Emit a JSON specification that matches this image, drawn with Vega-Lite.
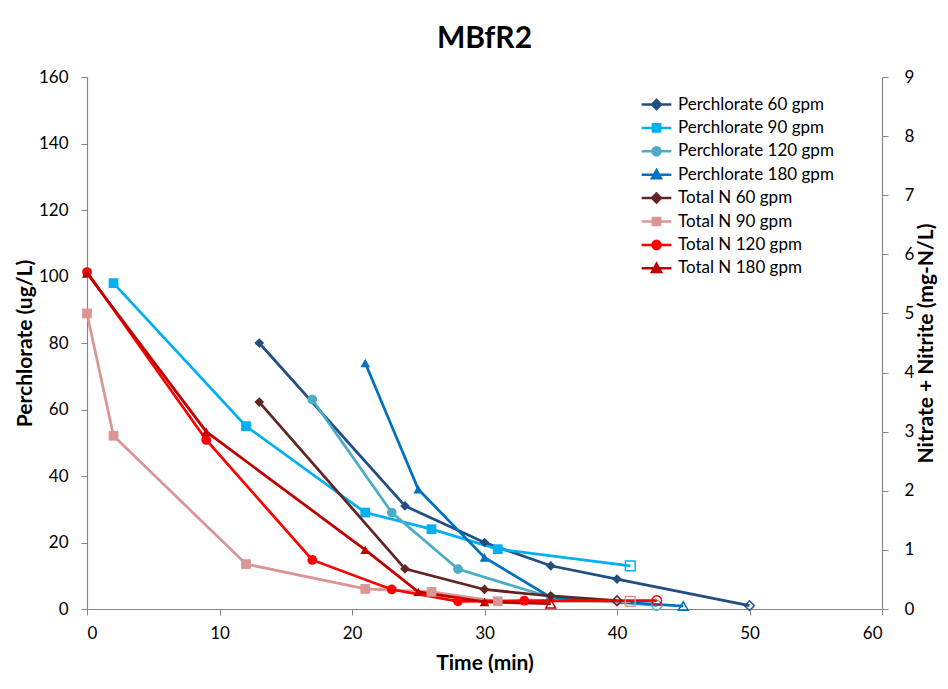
{
  "$schema": "https://vega.github.io/schema/vega-lite/v6.json",
  "width": 795,
  "height": 532,
  "autosize": "none",
  "padding": {"left": 87, "top": 77, "right": 66, "bottom": 80},
  "background": "white",
  "title": {"text": "MBfR2", "font": "Lato", "fontSize": 30, "fontWeight": "bold", "color": "#000000", "anchor": "middle", "offset": 14},
  "config": {
    "view": {"stroke": null},
    "axis": {"labelFont": "Lato", "labelFontSize": 17, "labelColor": "#000000", "titleFont": "Lato", "titleFontSize": 21, "titleFontWeight": "bold", "titleColor": "#000000", "domainColor": "#868686", "tickColor": "#868686", "grid": false, "tickSize": 6, "domainWidth": 1.2},
    "legend": {"labelFont": "Lato", "labelFontSize": 17, "labelColor": "#000000", "rowPadding": 4.4, "labelOffset": 13, "orient": "none", "legendX": 561, "legendY": 19}
  },
  "data": {"values": [
    {"series": "Perchlorate 60 gpm", "analyte": "Perchlorate", "flow": 60, "time": 13, "value": 80, "nd": false},
    {"series": "Perchlorate 60 gpm", "analyte": "Perchlorate", "flow": 60, "time": 24, "value": 31, "nd": false},
    {"series": "Perchlorate 60 gpm", "analyte": "Perchlorate", "flow": 60, "time": 30, "value": 20, "nd": false},
    {"series": "Perchlorate 60 gpm", "analyte": "Perchlorate", "flow": 60, "time": 35, "value": 13, "nd": false},
    {"series": "Perchlorate 60 gpm", "analyte": "Perchlorate", "flow": 60, "time": 40, "value": 9, "nd": false},
    {"series": "Perchlorate 60 gpm", "analyte": "Perchlorate", "flow": 60, "time": 50, "value": 1, "nd": true},
    {"series": "Perchlorate 90 gpm", "analyte": "Perchlorate", "flow": 90, "time": 2, "value": 98, "nd": false},
    {"series": "Perchlorate 90 gpm", "analyte": "Perchlorate", "flow": 90, "time": 12, "value": 55, "nd": false},
    {"series": "Perchlorate 90 gpm", "analyte": "Perchlorate", "flow": 90, "time": 21, "value": 29, "nd": false},
    {"series": "Perchlorate 90 gpm", "analyte": "Perchlorate", "flow": 90, "time": 26, "value": 24, "nd": false},
    {"series": "Perchlorate 90 gpm", "analyte": "Perchlorate", "flow": 90, "time": 31, "value": 18, "nd": false},
    {"series": "Perchlorate 90 gpm", "analyte": "Perchlorate", "flow": 90, "time": 41, "value": 13, "nd": true},
    {"series": "Perchlorate 120 gpm", "analyte": "Perchlorate", "flow": 120, "time": 17, "value": 63, "nd": false},
    {"series": "Perchlorate 120 gpm", "analyte": "Perchlorate", "flow": 120, "time": 23, "value": 29, "nd": false},
    {"series": "Perchlorate 120 gpm", "analyte": "Perchlorate", "flow": 120, "time": 28, "value": 12, "nd": false},
    {"series": "Perchlorate 120 gpm", "analyte": "Perchlorate", "flow": 120, "time": 35, "value": 3.5, "nd": false},
    {"series": "Perchlorate 120 gpm", "analyte": "Perchlorate", "flow": 120, "time": 43, "value": 1.1, "nd": true},
    {"series": "Perchlorate 180 gpm", "analyte": "Perchlorate", "flow": 180, "time": 21, "value": 74, "nd": false},
    {"series": "Perchlorate 180 gpm", "analyte": "Perchlorate", "flow": 180, "time": 25, "value": 36, "nd": false},
    {"series": "Perchlorate 180 gpm", "analyte": "Perchlorate", "flow": 180, "time": 30, "value": 15.5, "nd": false},
    {"series": "Perchlorate 180 gpm", "analyte": "Perchlorate", "flow": 180, "time": 35, "value": 3.5, "nd": false},
    {"series": "Perchlorate 180 gpm", "analyte": "Perchlorate", "flow": 180, "time": 45, "value": 0.9, "nd": true},
    {"series": "Total N 60 gpm", "analyte": "Total N", "flow": 60, "time": 13, "value": 3.5, "nd": false},
    {"series": "Total N 60 gpm", "analyte": "Total N", "flow": 60, "time": 24, "value": 0.68, "nd": false},
    {"series": "Total N 60 gpm", "analyte": "Total N", "flow": 60, "time": 30, "value": 0.33, "nd": false},
    {"series": "Total N 60 gpm", "analyte": "Total N", "flow": 60, "time": 35, "value": 0.22, "nd": false},
    {"series": "Total N 60 gpm", "analyte": "Total N", "flow": 60, "time": 40, "value": 0.14, "nd": true},
    {"series": "Total N 90 gpm", "analyte": "Total N", "flow": 90, "time": 0, "value": 5.0, "nd": false},
    {"series": "Total N 90 gpm", "analyte": "Total N", "flow": 90, "time": 2, "value": 2.93, "nd": false},
    {"series": "Total N 90 gpm", "analyte": "Total N", "flow": 90, "time": 12, "value": 0.76, "nd": false},
    {"series": "Total N 90 gpm", "analyte": "Total N", "flow": 90, "time": 21, "value": 0.34, "nd": false},
    {"series": "Total N 90 gpm", "analyte": "Total N", "flow": 90, "time": 26, "value": 0.29, "nd": false},
    {"series": "Total N 90 gpm", "analyte": "Total N", "flow": 90, "time": 31, "value": 0.13, "nd": false},
    {"series": "Total N 90 gpm", "analyte": "Total N", "flow": 90, "time": 41, "value": 0.13, "nd": true},
    {"series": "Total N 120 gpm", "analyte": "Total N", "flow": 120, "time": 0, "value": 5.7, "nd": false},
    {"series": "Total N 120 gpm", "analyte": "Total N", "flow": 120, "time": 9, "value": 2.86, "nd": false},
    {"series": "Total N 120 gpm", "analyte": "Total N", "flow": 120, "time": 17, "value": 0.83, "nd": false},
    {"series": "Total N 120 gpm", "analyte": "Total N", "flow": 120, "time": 23, "value": 0.33, "nd": false},
    {"series": "Total N 120 gpm", "analyte": "Total N", "flow": 120, "time": 28, "value": 0.13, "nd": false},
    {"series": "Total N 120 gpm", "analyte": "Total N", "flow": 120, "time": 33, "value": 0.14, "nd": false},
    {"series": "Total N 120 gpm", "analyte": "Total N", "flow": 120, "time": 43, "value": 0.14, "nd": true},
    {"series": "Total N 180 gpm", "analyte": "Total N", "flow": 180, "time": 0, "value": 5.68, "nd": false},
    {"series": "Total N 180 gpm", "analyte": "Total N", "flow": 180, "time": 9, "value": 3.0, "nd": false},
    {"series": "Total N 180 gpm", "analyte": "Total N", "flow": 180, "time": 21, "value": 1.0, "nd": false},
    {"series": "Total N 180 gpm", "analyte": "Total N", "flow": 180, "time": 25, "value": 0.29, "nd": false},
    {"series": "Total N 180 gpm", "analyte": "Total N", "flow": 180, "time": 30, "value": 0.12, "nd": false},
    {"series": "Total N 180 gpm", "analyte": "Total N", "flow": 180, "time": 35, "value": 0.09, "nd": true}
  ]},
  "encoding": {
    "x": {"field": "time", "type": "quantitative", "scale": {"domain": [0, 60], "nice": false}, "axis": {"values": [0, 10, 20, 30, 40, 50, 60], "title": "Time (min)", "labelPadding": 10, "titlePadding": 11}},
    "color": {"field": "series", "type": "nominal", "scale": {"domain": ["Perchlorate 60 gpm", "Perchlorate 90 gpm", "Perchlorate 120 gpm", "Perchlorate 180 gpm", "Total N 60 gpm", "Total N 90 gpm", "Total N 120 gpm", "Total N 180 gpm"], "range": ["#234E84", "#00B0F0", "#4BACC6", "#0070C0", "#632523", "#D99694", "#FF0000", "#C00000"]},
      "legend": {"title": null, "encode": {"symbols": {"update": {
        "fill": {"scale": "color", "field": "value"},
        "stroke": {"scale": "color", "field": "value"},
        "strokeWidth": {"value": 2.5},
        "opacity": {"value": 1},
        "size": {"value": 81},
        "shape": {"signal": "indexof(datum.value, '60 gpm') >= 0 ? 'M-3.3,0H3.3M0,-1L1,0L0,1L-1,0Z' : indexof(datum.value, '90 gpm') >= 0 ? 'M-3.3,0H3.3M-0.8,-0.8H0.8V0.8H-0.8Z' : indexof(datum.value, '120 gpm') >= 0 ? 'M-3.3,0H3.3M-0.9,0A0.9,0.9,0,1,1,0.9,0A0.9,0.9,0,1,1,-0.9,0Z' : 'M-3.3,0H3.3M0,-1L1,0.8H-1Z'"}
      }}}}
    }
  },
  "layer": [
    {
      "transform": [{"filter": "datum.analyte === 'Perchlorate'"}],
      "encoding": {
        "y": {"field": "value", "type": "quantitative", "scale": {"domain": [0, 160], "nice": false}, "axis": {"orient": "left", "values": [0, 20, 40, 60, 80, 100, 120, 140, 160], "title": "Perchlorate (ug/L)", "labelPadding": 13, "titlePadding": 3}}
      },
      "layer": [
        {"mark": {"type": "line", "strokeWidth": 2.75}},
        {"transform": [{"filter": "!datum.nd"}], "mark": {"type": "point", "filled": true, "size": 95, "opacity": 1}, "encoding": {"shape": {"field": "flow", "type": "nominal", "legend": null, "scale": {"domain": [60, 90, 120, 180], "range": ["diamond", "square", "circle", "triangle-up"]}}}},
        {"transform": [{"filter": "datum.nd"}], "mark": {"type": "point", "filled": false, "size": 95, "strokeWidth": 1.5, "opacity": 1}, "encoding": {"shape": {"field": "flow", "type": "nominal", "legend": null}}}
      ]
    },
    {
      "transform": [{"filter": "datum.analyte === 'Total N'"}],
      "encoding": {
        "y": {"field": "value", "type": "quantitative", "scale": {"domain": [0, 9], "nice": false}, "axis": {"orient": "right", "values": [0, 1, 2, 3, 4, 5, 6, 7, 8, 9], "title": "Nitrate + Nitrite (mg-N/L)", "titleAngle": 270, "titleBaseline": "top", "labelPadding": 16, "titlePadding": 2}}
      },
      "layer": [
        {"mark": {"type": "line", "strokeWidth": 2.75}},
        {"transform": [{"filter": "!datum.nd"}], "mark": {"type": "point", "filled": true, "size": 95, "opacity": 1}, "encoding": {"shape": {"field": "flow", "type": "nominal", "legend": null}}},
        {"transform": [{"filter": "datum.nd"}], "mark": {"type": "point", "filled": false, "size": 95, "strokeWidth": 1.5, "opacity": 1}, "encoding": {"shape": {"field": "flow", "type": "nominal", "legend": null}}}
      ]
    }
  ],
  "resolve": {"scale": {"y": "independent"}}
}
